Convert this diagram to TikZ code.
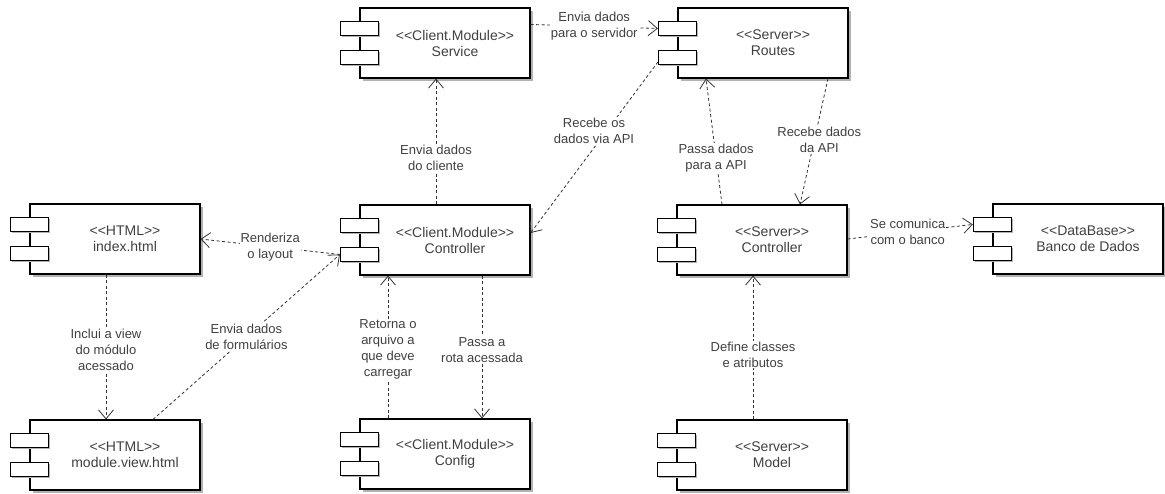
\documentclass[tikz,border=0pt]{standalone}
\usepackage{fontspec}
\setmainfont{Liberation Sans}
\usetikzlibrary{arrows.meta,shadows,calc}

\tikzset{
  comp/.style={draw=black, line width=1.1pt, fill=white,
    minimum width=170pt, minimum height=70pt, inner sep=0pt,
    general shadow={fill=black!30, shadow xshift=3pt, shadow yshift=-3pt}},
  comptab/.style={draw=black, line width=1.1pt, fill=white,
    minimum width=38pt, minimum height=14pt, inner sep=0pt,
    general shadow={fill=black!30, shadow xshift=2pt, shadow yshift=-2pt}},
  comptext/.style={align=center, inner sep=0pt, text=black!75,
    font=\fontsize{14}{16}\selectfont},
  dep/.style={draw=black!80, line width=0.8pt, dash pattern=on 3pt off 2.5pt,
    -{Straight Barb[length=9pt, width=15pt, line width=0.8pt]}},
  lbl/.style={fill=white, inner sep=1pt, align=center, text=black!75,
    font=\fontsize{13}{16}\selectfont}
}

% component: name, position, stereotype, title
\newcommand{\umlcomp}[4]{%
  \node[comp] (#1) at (#2) {};
  \node[comptab] (#1-t1) at ([yshift=-21pt]#1.north west) {};
  \node[comptab] (#1-t2) at ([yshift=-50pt]#1.north west) {};
  \node[comptext] (#1-txt) at ([xshift=10pt]#1.center) {<\kern0pt<#3>\kern0pt>\\#4};
}

\begin{document}
\begin{tikzpicture}[x=1pt, y=-1pt]
  \useasboundingbox (0,0) rectangle (1165,493);

  \umlcomp{index}{115,239}{HTML}{index.html}
  \umlcomp{module}{115,455}{HTML}{module.view.html}
  \umlcomp{service}{445,43}{Client.Module}{Service}
  \umlcomp{cctrl}{445,240}{Client.Module}{Controller}
  \umlcomp{config}{445,454}{Client.Module}{Config}
  \umlcomp{routes}{763,43}{Server}{Routes}
  \umlcomp{sctrl}{762,240}{Server}{Controller}
  \umlcomp{model}{762,455}{Server}{Model}
  \umlcomp{db}{1078,239}{DataBase}{Banco de Dados}

  % client side
  \draw[dep] ([xshift=-9pt]cctrl.north) -- node[lbl, pos=.37] (l1) {Envia dados\\do cliente} ([xshift=-9pt]service.south);
  \draw[dep] ([yshift=-17pt]service.north east) -- node[lbl, pos=.5] (l2) {Envia dados\\para o servidor} (routes-t1.west);
  \draw[dep] ([yshift=3pt]routes-t2.south west) -- node[lbl, pos=.4, xshift=-13pt] (l3) {Recebe os\\dados via API} ([yshift=7pt]cctrl.east);
  \draw[dep] (cctrl-t2.west) -- node[lbl, pos=.5] (l4) {Renderiza\\o layout} (index.east);
  \draw[dep] ([xshift=38pt]module.north) -- node[lbl, pos=.5] (l5) {Envia dados\\de formulários} (cctrl-t2.west);
  \draw[dep] ([xshift=-9pt]index.south) -- node[lbl, pos=.52] (l6) {Inclui a view\\do módulo\\acessado} ([xshift=-9pt]module.north);
  \draw[dep] ([xshift=-57pt]config.north) -- node[lbl, pos=.48] (l7) {Retorna o\\arquivo a\\que deve\\carregar} ([xshift=-57pt]cctrl.south);
  \draw[dep] ([xshift=37pt]cctrl.south) -- node[lbl, pos=.52] (l8) {Passa a\\rota acessada} ([xshift=37pt]config.north);

  % server side
  \draw[dep] ([xshift=-40pt]sctrl.north) -- node[lbl, pos=.37] (l9) {Passa dados\\para a API} ([xshift=-57pt]routes.south);
  \draw[dep] ([xshift=65pt]routes.south) -- node[lbl, pos=.49, xshift=5pt] (l10) {Recebe dados\\da API} ([xshift=38pt]sctrl.north);
  \draw[dep] ([yshift=1pt]sctrl.east) -- node[lbl, pos=.48] (l11) {Se comunica\\com o banco} (db-t1.west);
  \draw[dep] ([xshift=-9pt]model.north) -- node[lbl, pos=.45] (l12) {Define classes\\e atributos} ([xshift=-9pt]sctrl.south);
\end{tikzpicture}
\end{document}
